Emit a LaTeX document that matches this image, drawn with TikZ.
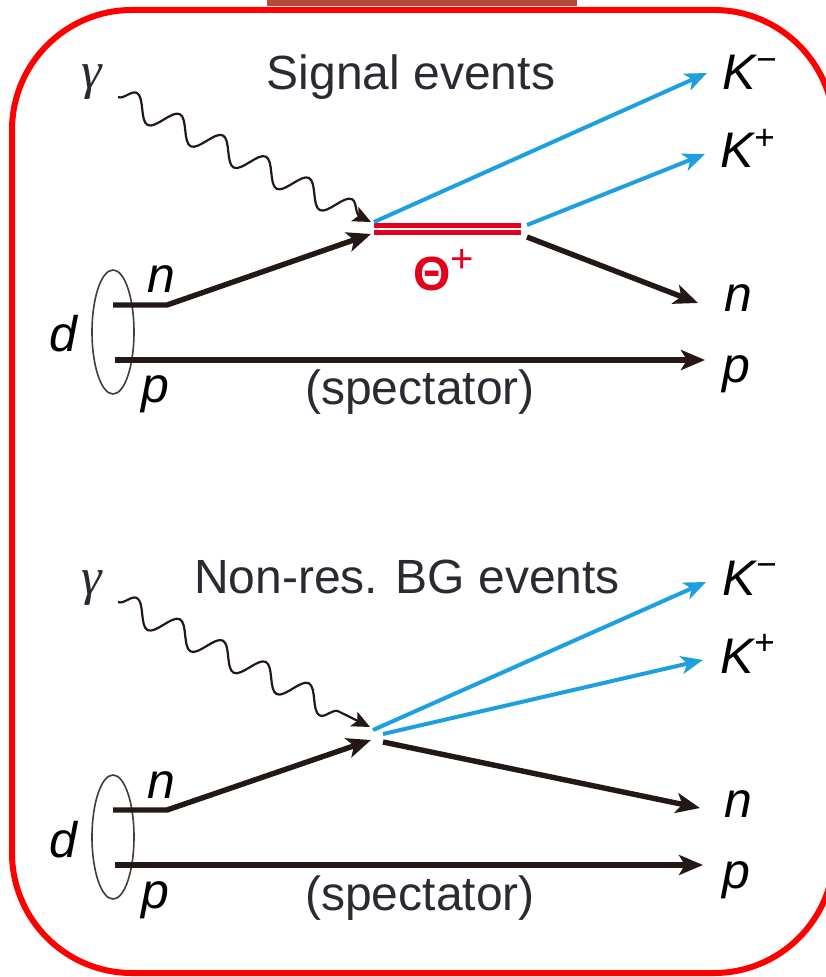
\documentclass[tikz,border=0pt]{standalone}
\usepackage{fontspec}
\setmainfont{Liberation Sans}
\newfontfamily\greekserif{Liberation Serif}
\usetikzlibrary{arrows.meta,decorations.pathmorphing}
\definecolor{NucBlack}{HTML}{231815}
\definecolor{LabelBlack}{HTML}{2A2A33}
\definecolor{KaonBlue}{HTML}{1EA0E0}
\definecolor{ThetaRed}{HTML}{E3001F}
\definecolor{BoxRed}{HTML}{FF0000}
\definecolor{BarRed}{HTML}{B24A3A}

\begin{document}
\begin{tikzpicture}[x=0.5pt,y=-0.5pt,
  nucleon/.style={NucBlack,line width=2.7pt,-{Stealth[length=12pt,width=10pt,inset=3pt]}},
  kaon/.style={KaonBlue,line width=2pt,-{Stealth[length=11pt,width=9pt,inset=3pt]}},
  photon/.style={NucBlack,line width=1.1pt,-{Stealth[length=9pt,width=8pt,inset=2pt]},
    decorate,decoration={snake,amplitude=6pt,segment length=24pt,post length=6pt}},
  particle/.style={font=\fontsize{25}{30}\selectfont\itshape,text=black,inner sep=0pt},
  photlbl/.style={font=\fontsize{26}{30}\selectfont\greekserif\itshape,text=LabelBlack,inner sep=0pt},
  caption/.style={font=\fontsize{24}{29}\selectfont,text=LabelBlack,inner sep=0pt}]
  \useasboundingbox (0,0) rectangle (825,977);
  \fill[BarRed] (267,0) rectangle (577,6);
  \draw[BoxRed,line width=3pt,rounded corners=60pt] (12,10) rectangle (834,973);

  % signal events: gamma n -> Theta+ K- -> n K+ K-
  \begin{scope}
    \node[caption,anchor=base] (sigtitle) at (411,90) {Signal events};
    \node[photlbl,anchor=base] (gammaT) at (92,89) {γ};
    \coordinate (wavT) at (118,97);
    \coordinate (phT) at (371,222);
    \draw[photon] (wavT) -- (phT);

    \draw[NucBlack!85,line width=0.8pt] (113,332) ellipse (21 and 62);
    \node[particle,anchor=base west] (dT) at (49,352) {d};
    \node[particle,anchor=base west] (nInLblT) at (147,293) {n};
    \node[particle,anchor=base west] (pInLblT) at (141,403) {p};

    \coordinate (nInT) at (113,305);
    \coordinate (nKinkT) at (167,305);
    \coordinate (nTipT) at (371,234);
    \draw[nucleon] (nInT) -- (nKinkT) -- (nTipT);
    \coordinate (pInT) at (115,360);
    \coordinate (pOutT) at (705,360);
    \draw[nucleon] (pInT) -- (pOutT);
    \node[caption,anchor=base] (specT) at (420,405) {(spectator)};

    \coordinate (thL) at (374,229);
    \coordinate (thR) at (521,229);
    \draw[ThetaRed,line width=2.5pt,double=white,double distance=1pt] (thL) -- (thR);
    \node[font=\fontsize{24}{28}\selectfont\bfseries,text=ThetaRed,inner sep=0pt,anchor=base west]
      (theta) at (413,291) {Θ\textsuperscript{\fontsize{20}{24}\selectfont\mdseries+}};

    \coordinate (kmSt) at (374,222);
    \coordinate (kmEt) at (707,73);
    \draw[kaon] (kmSt) -- (kmEt);
    \coordinate (kpSt) at (527,225);
    \coordinate (kpEt) at (705,154);
    \draw[kaon] (kpSt) -- (kpEt);
    \coordinate (nSt) at (527,237);
    \coordinate (nEt) at (698,303);
    \draw[nucleon] (nSt) -- (nEt);

    \node[particle,anchor=base west] (kmLblT) at (722,90) {K\textsuperscript{−}};
    \node[particle,anchor=base west] (kpLblT) at (720,168) {K\textsuperscript{+}};
    \node[particle,anchor=base west] (nOutLblT) at (724,312) {n};
    \node[particle,anchor=base west] (pOutLblT) at (722,383) {p};
  \end{scope}

  % non-resonant background: gamma n -> n K+ K-
  \begin{scope}[shift={(0,505)}]
    \node[caption,anchor=base] (bgtitle) at (407,88) {Non-res. BG events};
    \node[photlbl,anchor=base] (gammaB) at (92,89) {γ};
    \coordinate (wavB) at (118,97);
    \coordinate (phB) at (370,222);
    \draw[photon] (wavB) -- (phB);

    \draw[NucBlack!85,line width=0.8pt] (113,332) ellipse (21 and 62);
    \node[particle,anchor=base west] (dB) at (49,352) {d};
    \node[particle,anchor=base west] (nInLblB) at (147,293) {n};
    \node[particle,anchor=base west] (pInLblB) at (141,403) {p};

    \coordinate (nInB) at (113,305);
    \coordinate (nKinkB) at (167,305);
    \coordinate (nTipB) at (371,235);
    \draw[nucleon] (nInB) -- (nKinkB) -- (nTipB);
    \coordinate (pInB) at (115,360);
    \coordinate (pOutB) at (703,360);
    \draw[nucleon] (pInB) -- (pOutB);
    \node[caption,anchor=base] (specB) at (420,405) {(spectator)};

    \coordinate (kmSb) at (373,225);
    \coordinate (kmEb) at (706,77);
    \draw[kaon] (kmSb) -- (kmEb);
    \coordinate (kpSb) at (383,229);
    \coordinate (kpEb) at (703,155);
    \draw[kaon] (kpSb) -- (kpEb);
    \coordinate (nSb) at (383,237);
    \coordinate (nEb) at (700,303);
    \draw[nucleon] (nSb) -- (nEb);

    \node[particle,anchor=base west] (kmLblB) at (722,90) {K\textsuperscript{−}};
    \node[particle,anchor=base west] (kpLblB) at (720,168) {K\textsuperscript{+}};
    \node[particle,anchor=base west] (nOutLblB) at (724,312) {n};
    \node[particle,anchor=base west] (pOutLblB) at (722,383) {p};
  \end{scope}
\end{tikzpicture}
\end{document}
